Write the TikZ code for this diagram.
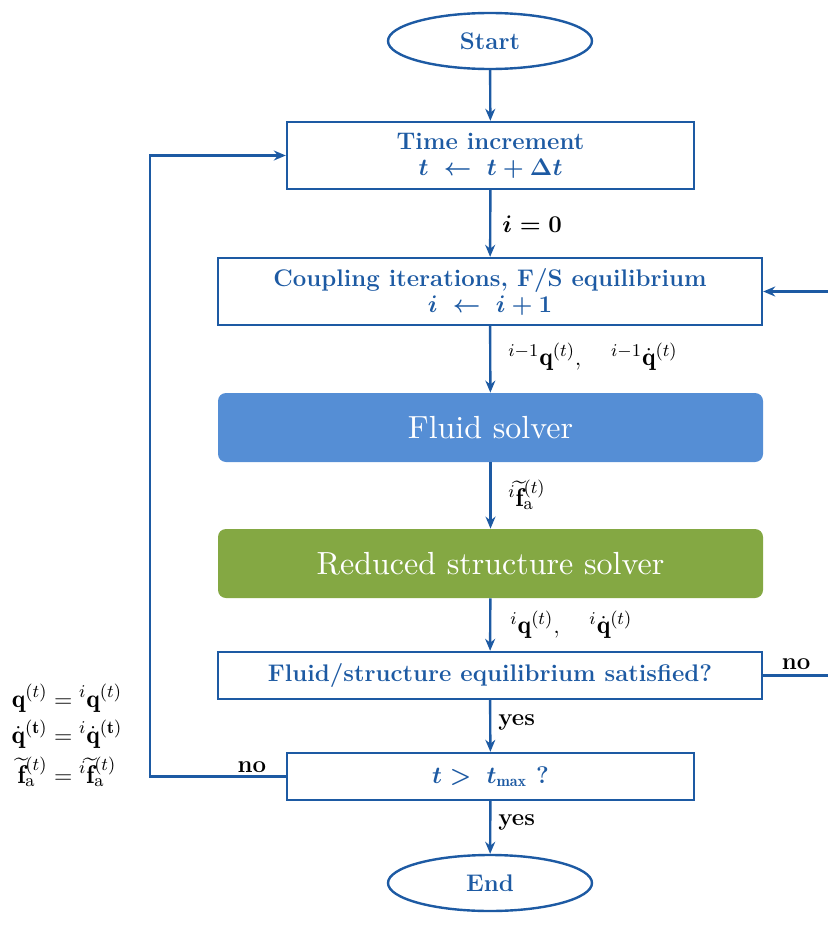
\documentclass[tikz,border=0pt]{standalone}
\usepackage{amsmath,amssymb}
\usepackage{fontspec}
\newfontfamily\solverfont{lmroman10-regular.otf}
\usetikzlibrary{arrows.meta,shapes.geometric}
\definecolor{lineblue}{HTML}{1D5AA3}
\definecolor{fluidblue}{HTML}{558ED5}
\definecolor{solidgreen}{HTML}{84A843}
\tikzset{
  box/.style={draw=lineblue, line width=1.2pt, fill=white, inner sep=0pt, align=center,
    text=lineblue, font=\large\bfseries\boldmath},
  terminal/.style={ellipse, draw=lineblue, line width=1.2pt, inner sep=0pt,
    minimum width=102pt, minimum height=28pt, text=lineblue, font=\large\bfseries},
  solver/.style={rounded corners=4pt, inner sep=0pt, text=white,
    minimum width=272.5pt, minimum height=34.5pt, font=\solverfont\fontsize{16}{19}\selectfont},
  conn/.style={draw=lineblue, line width=1.2pt, -{Stealth[length=6pt,width=5pt]}},
  plain/.style={draw=lineblue, line width=1.2pt},
  lbl/.style={anchor=west, inner sep=0pt, font=\fontsize{12.8}{15}\selectfont},
  word/.style={inner sep=0pt, font=\large\bfseries}
}
\begin{document}
\begin{tikzpicture}[x=0.5pt,y=-0.5pt]
\useasboundingbox (0,0) rectangle (828,931);
\node[terminal] (start) at (490,41) {Start};
\node[box, minimum width=203.5pt, minimum height=33.5pt] (time) at (490.5,155.5)
  {Time increment\\[-1pt] $t \;\leftarrow\; t+\Delta t$};
\node[box, minimum width=272pt, minimum height=33.5pt] (coup) at (490,291.5)
  {Coupling iterations, F/S equilibrium\\[-1pt] $i \;\leftarrow\; i+1$};
\node[solver, fill=fluidblue] (fluid) at (490.5,427.5) {Fluid solver};
\node[solver, fill=solidgreen] (struct) at (490.5,563.5) {Reduced structure solver};
\node[box, minimum width=272pt, minimum height=23.5pt] (equil) at (490,675.5)
  {Fluid/structure equilibrium satisfied?};
\node[box, minimum width=203.5pt, minimum height=23.5pt] (tmax) at (490.5,776.5)
  {$t >\; t_{\max}$ ?};
\node[terminal] (end) at (490,883) {End};

\coordinate (rin) at (828,291.5);
\coordinate (rout) at (828,675.5);
\coordinate (lc1) at (150,776.5);
\coordinate (lc2) at (150,155.5);

\draw[conn] (start) -- (time);
\draw[conn] (time) -- (coup);
\draw[conn] (coup) -- (fluid);
\draw[conn] (fluid) -- (struct);
\draw[conn] (struct) -- (equil);
\draw[conn] (equil) -- (tmax);
\draw[conn] (tmax) -- (end);
\draw[conn] (rin) -- (coup.east);
\draw[plain] (equil.east) -- (rout);
\draw[conn] (tmax.west) -- (lc1) -- (lc2) -- (time.west);

\node[lbl, font=\large\boldmath] (l0) at (502,224) {$i=0$};
\node[lbl] (l1) at (508,357) {${}^{i-1}\mathbf{q}^{(t)},\quad {}^{i-1}\dot{\mathbf{q}}^{(t)}$};
\node[lbl] (l2) at (508,495) {${}^{i}\widetilde{\mathbf{f}}_{\mathrm{a}}^{(t)}$};
\node[lbl] (l3) at (510,625) {${}^{i}\mathbf{q}^{(t)},\quad {}^{i}\dot{\mathbf{q}}^{(t)}$};
\node[lbl, font=\large\bfseries] (y1) at (498,722) {yes};
\node[lbl, font=\large\bfseries] (y2) at (498,822) {yes};
\node[word] (n1) at (796,664) {no};
\node[word] (n2) at (252,767) {no};
\node[inner sep=0pt, font=\fontsize{12.8}{15}\selectfont] (eqs) at (67,738)
  {$\begin{aligned}
    \mathbf{q}^{(t)} &= {}^{i}\mathbf{q}^{(t)}\\[-2pt]
    \dot{\mathbf{q}}^{(\mathbf{t})} &= {}^{i}\dot{\mathbf{q}}^{(\mathbf{t})}\\[-2pt]
    \widetilde{\mathbf{f}}_{\mathrm{a}}^{(t)} &= {}^{i}\widetilde{\mathbf{f}}_{\mathrm{a}}^{(t)}
  \end{aligned}$};
\end{tikzpicture}
\end{document}
